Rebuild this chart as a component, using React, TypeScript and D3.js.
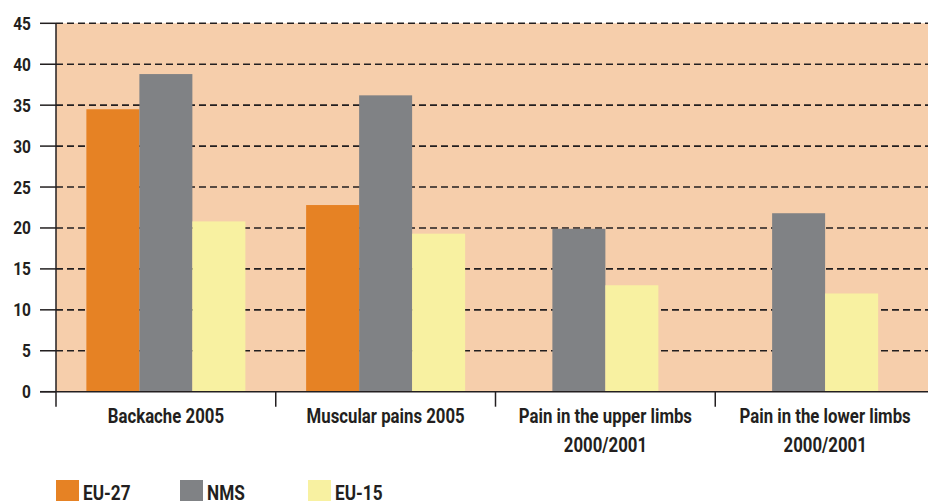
import React from 'react';
import * as d3 from 'd3';

// data (%)
const categories = ['Backache 2005', 'Muscular pains 2005', 'Pain in the upper limbs\n2000/2001', 'Pain in the lower limbs\n2000/2001'];
const seriesNames = ['EU-27', 'NMS', 'EU-15'];
const eu27 = [34.5, 22.8, null, null];
const nms = [38.8, 36.2, 19.9, 21.8];
const eu15 = [20.8, 19.3, 13.0, 12.0];
const yTicks = [0, 5, 10, 15, 20, 25, 30, 35, 40, 45];

const colors = ['#E68224', '#808285', '#F8F1A1'];
const font = 'Roboto, "Liberation Sans", sans-serif';
const ink = '#231F20';

// reference uses a condensed face, so narrow the glyphs
const Label = ({ x, y, anchor = 'start', size = 18, sx = 0.86, children }) => (
  <text transform={`translate(${x},${y}) scale(${sx},1)`} textAnchor={anchor} fontSize={size} fill={ink}>
    {children}
  </text>
);

const App = () => {
  const width = 928;
  const height = 501;
  const left = 56;
  const axisY = 391.7;
  const topY = 23.3;

  const x = d3.scaleBand().domain(categories).range([left, 935]).padding(0);
  const y = d3.scaleLinear().domain([0, 45]).range([axisY, topY]);
  const series = [eu27, nms, eu15];
  const barW = 53;

  const bars = categories.flatMap((c, ci) => {
    const present = series
      .map((s, si) => ({ si, v: s[ci] }))
      .filter(d => d.v != null);
    const cx = x(c) + x.bandwidth() / 2;
    const start = cx - (present.length * barW) / 2;
    return present.map((d, i) => ({ key: `${ci}-${d.si}`, x: start + i * barW, v: d.v, color: colors[d.si] }));
  });

  return (
    <svg width={width} height={height} style={{ position: 'absolute', left: 0, top: 0 }} fontFamily={font} fontWeight="bold">
      <rect x={left} y={topY} width={width - left} height={axisY - topY} fill="#F6CEAB" />
      {yTicks.filter(t => t > 0).map(t => (
        <line key={t} x1={left} x2={width} y1={y(t)} y2={y(t)} stroke={ink} strokeWidth={1.6} strokeDasharray="7,4" />
      ))}
      {bars.map(b => (
        <rect key={b.key} x={b.x} y={y(b.v)} width={barW} height={axisY - y(b.v)} fill={b.color} />
      ))}
      {/* axes */}
      <line x1={left} x2={left} y1={topY} y2={axisY + 15} stroke={ink} strokeWidth={1.5} />
      <line x1={40} x2={width} y1={axisY} y2={axisY} stroke={ink} strokeWidth={1.5} />
      {yTicks.map(t => (
        <g key={t}>
          <line x1={40} x2={left} y1={y(t)} y2={y(t)} stroke={ink} strokeWidth={1.5} />
          <Label x={31} y={y(t) + 6.5} anchor="end" size={18}>{t}</Label>
        </g>
      ))}
      {categories.slice(1).map(c => (
        <line key={c} x1={x(c)} x2={x(c)} y1={axisY} y2={axisY + 15} stroke={ink} strokeWidth={1.5} />
      ))}
      {categories.map(c =>
        c.split('\n').map((line, i) => (
          <Label key={c + i} x={x(c) + x.bandwidth() / 2} y={423 + i * 29} anchor="middle" size={20} sx={0.84}>{line}</Label>
        ))
      )}
      {/* legend */}
      {seriesNames.map((s, i) => {
        const lx = [56, 180, 308][i];
        return (
          <g key={s}>
            <rect x={lx} y={480} width={23} height={23} fill={colors[i]} />
            <Label x={lx + 27} y={500} size={20}>{s}</Label>
          </g>
        );
      })}
    </svg>
  );
};

export default App;
